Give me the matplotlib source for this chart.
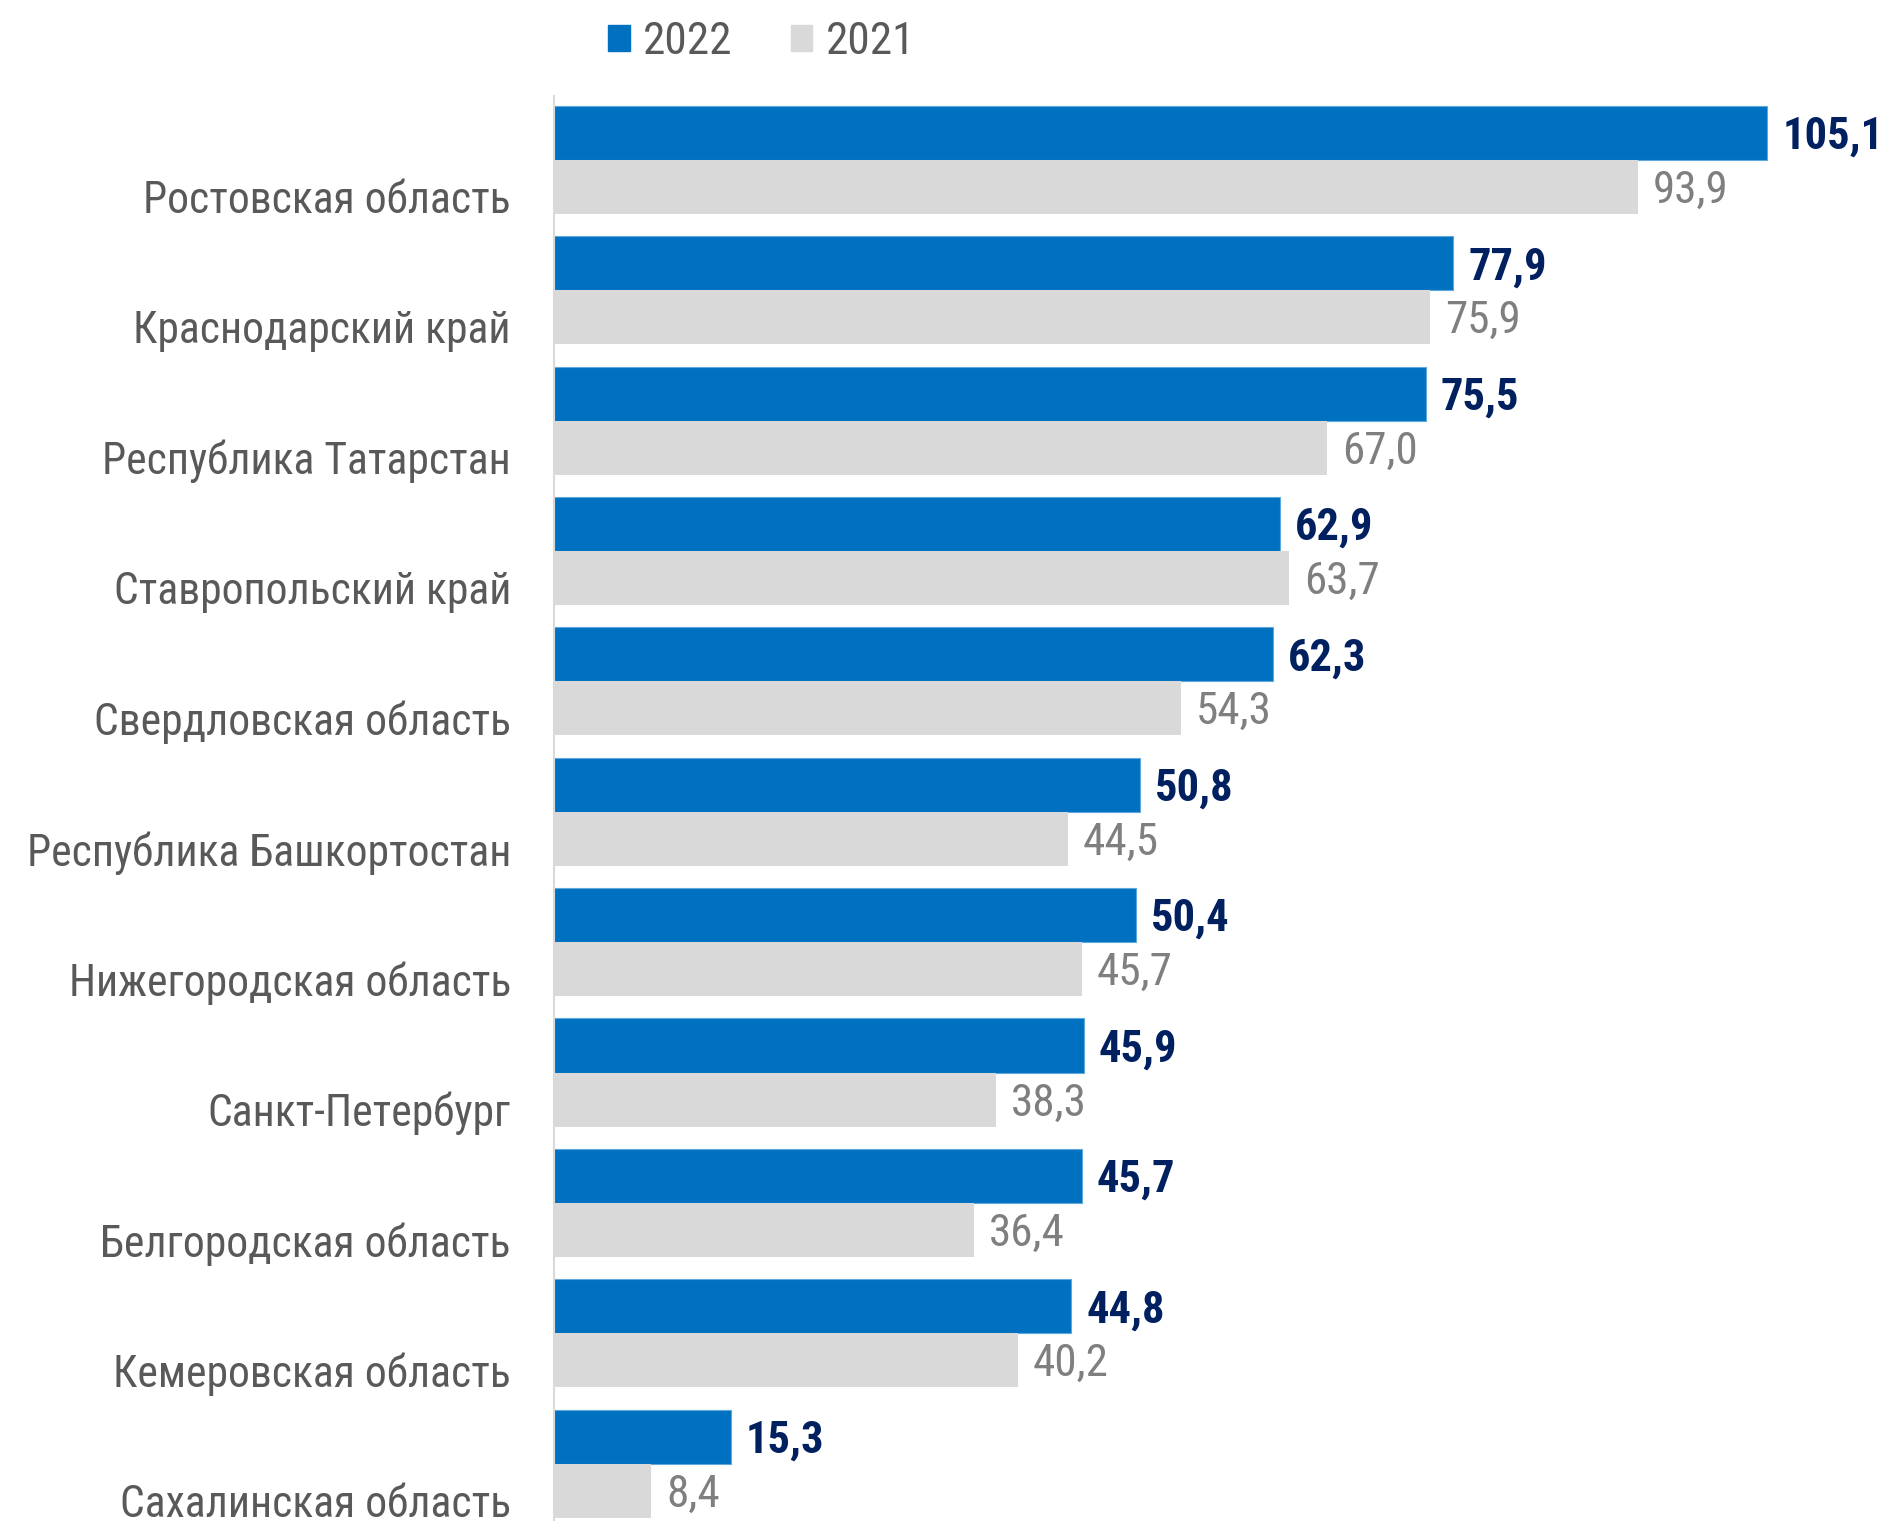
import matplotlib.pyplot as plt
from matplotlib.patches import Patch
import numpy as np

plt.rcParams['font.family'] = ['Roboto Condensed', 'DejaVu Sans']

regions = [
    "Ростовская область",
    "Краснодарский край",
    "Республика Татарстан",
    "Ставропольский край",
    "Свердловская область",
    "Республика Башкортостан",
    "Нижегородская область",
    "Санкт-Петербург",
    "Белгородская область",
    "Кемеровская область",
    "Сахалинская область",
]
values_2022 = [105.1, 77.9, 75.5, 62.9, 62.3, 50.8, 50.4, 45.9, 45.7, 44.8, 15.3]
values_2021 = [93.9, 75.9, 67.0, 63.7, 54.3, 44.5, 45.7, 38.3, 36.4, 40.2, 8.4]

blue = "#0070C0"
grey = "#D9D9D9"
text_grey = "#595959"
navy = "#002060"

fig = plt.figure(figsize=(18.85, 15.21), dpi=100)
ax = fig.add_axes([554 / 1885, 0.0, 1 - 554 / 1885, (1521 - 96) / 1521])

y = np.arange(len(regions))
h = 0.415
ax.barh(y - h / 2, values_2022, height=h, color=blue, edgecolor="#5fa8dc", linewidth=0.8)
ax.barh(y + h / 2, values_2021, height=h, color=grey)

# value labels, slightly below bar centre like the original
for yi, v in zip(y, values_2022):
    ax.text(v + 1.3, yi - h / 2 + 0.03, f"{v:.1f}".replace(".", ","), va="center", ha="left",
            fontsize=32, fontweight="bold", color=navy)
for yi, v in zip(y, values_2021):
    ax.text(v + 1.3, yi + h / 2 + 0.03, f"{v:.1f}".replace(".", ","), va="center", ha="left",
            fontsize=32.5, color="#7f7f7f")

ax.set_xlim(0, 115.3)
ax.set_ylim(len(regions) - 1 + 0.44, -0.49)
ax.set_xticks([])
ax.set_yticks(y + 0.28)
ax.set_yticklabels(regions, fontsize=31.4, color=text_grey)
ax.tick_params(axis="y", length=0, pad=31)
for s in ["top", "right", "bottom"]:
    ax.spines[s].set_visible(False)
ax.spines["left"].set_color("#D9D9D9")
ax.spines["left"].set_linewidth(1.5)

handles = [Patch(color=blue, label="2022"), Patch(color=grey, label="2021")]
leg = fig.legend(handles=handles, loc="center", bbox_to_anchor=(0.404, 1 - 42 / 1521), ncol=2,
                 frameon=False, fontsize=32.6, handlelength=0.48, handleheight=0.48,
                 handletextpad=0.3, columnspacing=1.28)
for t in leg.get_texts():
    t.set_color(text_grey)

fig.savefig("out.png", dpi=100)
